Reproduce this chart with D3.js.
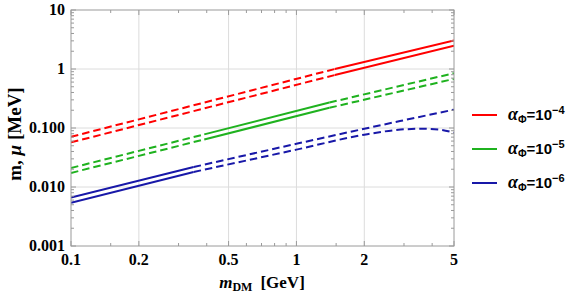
<!DOCTYPE html>
<html><head><meta charset="utf-8">
<script src="https://cdn.jsdelivr.net/npm/d3@7"></script>
<style>body{margin:0;background:#fff}svg{display:block}</style>
</head><body><svg id="c" width="581" height="298"></svg>
<script>
// ---- data ----
const xTickMajor = [0.1, 0.2, 0.5, 1, 2, 5];
const xTickLabels = ["0.1", "0.2", "0.5", "1", "2", "5"];
const xTickMinor = [0.15, 0.3, 0.4, 0.6, 0.7, 0.8, 0.9, 1.5, 3, 4];
const yTickMajor = [0.001, 0.01, 0.1, 1, 10];
const yTickLabels = ["0.001", "0.010", "0.100", "1", "10"];
const yGrid = [0.01, 0.1, 1];
const xGrid = [0.2, 0.5, 1, 2];

// alpha = 1e-4 (red)
const redUpperDashed = [[0.1, 0.071], [1.48, 1.0]];
const redUpperSolid  = [[1.48, 1.0], [5, 3.05]];
const redLowerDashed = [[0.1, 0.057], [1.48, 0.79]];
const redLowerSolid  = [[1.48, 0.79], [5, 2.48]];
// alpha = 1e-5 (green)
const greenUpperDashedA = [[0.1, 0.021], [0.39, 0.078]];
const greenUpperSolid   = [[0.39, 0.078], [1.4, 0.27]];
const greenUpperDashedB = [[1.4, 0.27], [5, 0.85]];
const greenLowerDashedA = [[0.1, 0.0173], [0.39, 0.064]];
const greenLowerSolid   = [[0.39, 0.064], [1.4, 0.22]];
const greenLowerDashedB = [[1.4, 0.22], [5, 0.68]];
// alpha = 1e-6 (blue)
const blueUpperSolid  = [[0.1, 0.0066], [0.35, 0.0218]];
const blueUpperDashed = [[0.35, 0.0218], [1, 0.054], [2, 0.097], [2.88, 0.131], [5, 0.205]];
const blueLowerSolid  = [[0.1, 0.0054], [0.35, 0.018]];
const blueLowerDashed = [[0.35, 0.018], [1, 0.043], [2, 0.077], [2.9, 0.094], [3.6, 0.097], [4.3, 0.094], [5, 0.083]];

const legendLabels = ["\u22124", "\u22125", "\u22126"];
const colors = ["#ff0000", "#1fb21f", "#1818a8"];

// ---- chart ----
const svg = d3.select("#c");
const L = 71, R = 454, T = 10, B = 246;
const x = d3.scaleLog().domain([0.1, 5]).range([L, R]);
const y = d3.scaleLog().domain([0.001, 10]).range([B, T]);

// grid
svg.append("g").selectAll("line").data(yGrid).join("line")
  .attr("x1", L).attr("x2", R).attr("y1", d => y(d)).attr("y2", d => y(d))
  .attr("stroke", "#dcdcdc").attr("stroke-width", 1);
svg.append("g").selectAll("line").data(xGrid).join("line")
  .attr("y1", T).attr("y2", B).attr("x1", d => x(d)).attr("x2", d => x(d))
  .attr("stroke", "#dcdcdc").attr("stroke-width", 1);

// series
svg.append("clipPath").attr("id", "clip").append("rect")
  .attr("x", L).attr("y", T).attr("width", R - L).attr("height", B - T);
const line = d3.line().x(d => x(d[0])).y(d => y(d[1])).curve(d3.curveMonotoneX);
const segs = [
  [redUpperDashed, 0, true], [redUpperSolid, 0, false], [redLowerDashed, 0, true], [redLowerSolid, 0, false],
  [greenUpperDashedA, 1, true], [greenUpperSolid, 1, false], [greenUpperDashedB, 1, true],
  [greenLowerDashedA, 1, true], [greenLowerSolid, 1, false], [greenLowerDashedB, 1, true],
  [blueUpperSolid, 2, false], [blueUpperDashed, 2, true], [blueLowerSolid, 2, false], [blueLowerDashed, 2, true]
];
const gl = svg.append("g").attr("clip-path", "url(#clip)");
segs.forEach(([pts, ci, dashed]) => {
  gl.append("path").attr("d", line(pts)).attr("fill", "none")
    .attr("stroke", colors[ci]).attr("stroke-width", 2)
    .attr("stroke-dasharray", dashed ? "7.5,4" : null);
});

// frame
const axCol = "#9a9a9a";
svg.append("rect").attr("x", L).attr("y", T).attr("width", R - L).attr("height", B - T)
  .attr("fill", "none").attr("stroke", axCol).attr("stroke-width", 1);

// ticks (inward, all sides)
const tg = svg.append("g").attr("stroke", axCol).attr("stroke-width", 1);
function xt(v, len) {
  tg.append("line").attr("x1", x(v)).attr("x2", x(v)).attr("y1", B).attr("y2", B - len);
  tg.append("line").attr("x1", x(v)).attr("x2", x(v)).attr("y1", T).attr("y2", T + len);
}
function yt(v, len) {
  tg.append("line").attr("y1", y(v)).attr("y2", y(v)).attr("x1", L).attr("x2", L + len);
  tg.append("line").attr("y1", y(v)).attr("y2", y(v)).attr("x1", R).attr("x2", R - len);
}
xTickMajor.forEach(v => xt(v, 5));
xTickMinor.forEach(v => xt(v, 3));
yTickMajor.forEach(v => yt(v, 5));
const yMinor = [];
y.ticks().forEach(v => { if (!yTickMajor.some(m => Math.abs(m - v) / v < 1e-6)) yMinor.push(v); });
yMinor.forEach(v => yt(v, 3));

// tick labels
const tf = "'Liberation Serif','Times New Roman',serif";
svg.append("g").selectAll("text").data(xTickMajor).join("text")
  .attr("x", d => x(d)).attr("y", 265).attr("text-anchor", "middle")
  .attr("font-family", tf).attr("font-weight", "bold").attr("font-size", 16)
  .text((d, i) => xTickLabels[i]);
svg.append("g").selectAll("text").data(yTickMajor).join("text")
  .attr("x", 65).attr("y", d => y(d) + 5).attr("text-anchor", "end")
  .attr("font-family", tf).attr("font-weight", "bold").attr("font-size", 16)
  .text((d, i) => yTickLabels[i]);

// axis titles
const xt2 = svg.append("text").attr("x", 262).attr("y", 288).attr("text-anchor", "middle")
  .attr("font-family", tf).attr("font-weight", "bold").attr("font-size", 17);
xt2.append("tspan").attr("font-style", "italic").text("m");
xt2.append("tspan").attr("font-size", 12).attr("dy", 3).text("DM");
xt2.append("tspan").attr("dy", -3).attr("dx", 8).text("[GeV]");

const yt2 = svg.append("text").attr("transform", "translate(21,134) rotate(-90)").attr("text-anchor", "middle")
  .attr("font-family", tf).attr("font-weight", "bold").attr("font-size", 19);
yt2.append("tspan").text("m, ");
yt2.append("tspan").attr("font-style", "italic").text("\u03bc");
yt2.append("tspan").text(" [MeV]");

// legend
const lf = "'Liberation Sans',Arial,sans-serif";
const legY = [115, 149, 183];
legY.forEach((ly, i) => {
  svg.append("line").attr("x1", 472).attr("x2", 497).attr("y1", ly).attr("y2", ly)
    .attr("stroke", colors[i]).attr("stroke-width", 2);
  const t = svg.append("text").attr("x", 508).attr("y", ly + 5)
    .attr("font-family", lf).attr("font-weight", "bold").attr("font-size", 15).attr("fill", "#000");
  t.append("tspan").attr("font-style", "italic").attr("font-family", tf).attr("font-size", 18).text("\u03b1");
  t.append("tspan").attr("font-size", 10.5).attr("dy", 3).text("\u03a6");
  t.append("tspan").attr("dy", -3).text("=10");
  t.append("tspan").attr("font-size", 11).attr("dy", -6).text(legendLabels[i]);
});
</script></body></html>
